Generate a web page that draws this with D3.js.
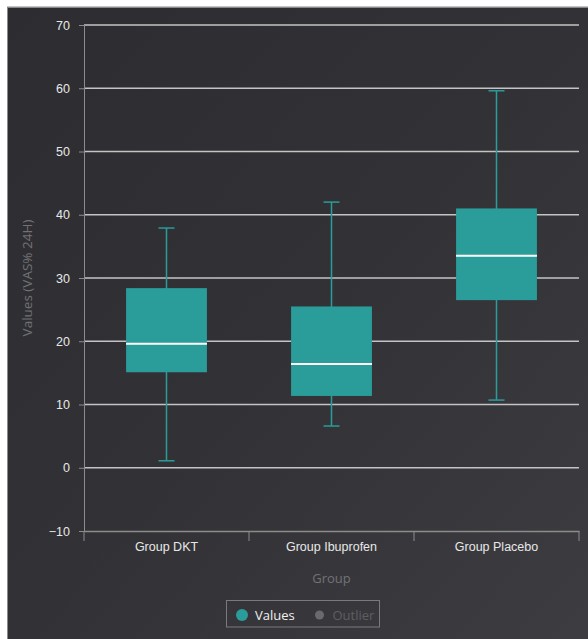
<!DOCTYPE html>
<html><head><meta charset="utf-8">
<script src="https://cdn.jsdelivr.net/npm/d3@7"></script>
<style>
html,body{margin:0;padding:0;background:#fff;}
svg{display:block;font-family:"Open Sans","DejaVu Sans",sans-serif;}
</style></head>
<body>
<svg id="c" width="588" height="639"></svg>
<script>
const groups = ["Group DKT", "Group Ibuprofen", "Group Placebo"];
const whiskerLow = [1.1, 6.6, 10.7];
const q1Values = [15.1, 11.35, 26.5];
const medians = [19.6, 16.4, 33.5];
const q3Values = [28.4, 25.5, 41.0];
const whiskerHigh = [37.9, 42.0, 59.6];
const yTicks = [-10, 0, 10, 20, 30, 40, 50, 60, 70];
const legendItems = ["Values", "Outlier"];

(function () {
const svg = d3.select("#c");
const W = 588, H = 639;
const defs = svg.append("defs");
const grad = defs.append("linearGradient").attr("id","bg")
  .attr("x1","0").attr("y1","0").attr("x2","1").attr("y2","1");
grad.append("stop").attr("offset","0").attr("stop-color","#2d2d31");
grad.append("stop").attr("offset","0.5").attr("stop-color","#323236");
grad.append("stop").attr("offset","1").attr("stop-color","#3d3d41");

svg.append("rect").attr("x",0).attr("y",0).attr("width",W).attr("height",H).attr("fill","#fff");
svg.append("rect").attr("x",7).attr("y",6.5).attr("width",W-7).attr("height",H-6.5).attr("fill","#8a8a8a");
svg.append("rect").attr("x",8).attr("y",8).attr("width",W-8).attr("height",H-8).attr("fill","url(#bg)");

const pLeft = 84, pRight = 579, pTop = 25, pBottom = 531;
const y = d3.scaleLinear().domain([-10, 70]).range([pBottom, pTop]);
const x = d3.scaleBand().domain(groups).range([pLeft, pRight]).paddingInner(0).paddingOuter(0);

// gridlines
svg.append("g").selectAll("line").data(yTicks.filter(t => t > -10)).join("line")
  .attr("x1", pLeft).attr("x2", pRight)
  .attr("y1", d => y(d)).attr("y2", d => y(d))
  .attr("stroke", "#c4c4c4").attr("stroke-width", 1.5);

// y axis
const yAxis = svg.append("g").attr("transform", `translate(${pLeft},0)`)
  .call(d3.axisLeft(y).tickValues(yTicks).tickSize(5).tickPadding(9).tickFormat(d => d < 0 ? "\u2212" + Math.abs(d) : d));
yAxis.select(".domain").attr("stroke", "#8c8c8c").attr("stroke-width", 1);
yAxis.selectAll(".tick line").attr("stroke", "#8c8c8c");
yAxis.selectAll(".tick text").attr("fill", "#e8e8e8").attr("font-size", 12.5).attr("font-weight", 500);

// x axis
const xAxis = svg.append("g").attr("transform", `translate(0,${pBottom})`)
  .call(d3.axisBottom(x).tickSize(0).tickPadding(11));
xAxis.select(".domain").attr("stroke", "#8c8c8c").attr("stroke-width", 1.5);
xAxis.selectAll(".tick text").attr("fill", "#e8e8e8").attr("font-size", 12.5).attr("font-weight", 500);
const bounds = groups.map(g => x(g)).concat([x(groups[groups.length-1]) + x.bandwidth()]);
svg.append("g").selectAll("line").data(bounds).join("line")
  .attr("x1", d => d).attr("x2", d => d)
  .attr("y1", pBottom).attr("y2", pBottom + 10)
  .attr("stroke", "#8c8c8c").attr("stroke-width", 1);

// axis titles
svg.append("text").attr("x", (pLeft + pRight) / 2).attr("y", 582.5)
  .attr("text-anchor", "middle").attr("fill", "#727276").attr("font-size", 13).text("Group");
svg.append("text").attr("transform", `translate(32,${(pTop + pBottom) / 2}) rotate(-90)`)
  .attr("text-anchor", "middle").attr("fill", "#727276").attr("font-size", 13.5).text("Values (VAS% 24H)");

// boxes
const teal = "#2a9c9a";
const bw = x.bandwidth() * 0.49;
const capW = 16;
const boxes = svg.append("g").selectAll("g").data(groups).join("g")
  .attr("transform", d => `translate(${x(d) + x.bandwidth() / 2},0)`);
boxes.append("line").attr("x1", 0).attr("x2", 0)
  .attr("y1", (d, i) => y(whiskerLow[i])).attr("y2", (d, i) => y(whiskerHigh[i]))
  .attr("stroke", teal).attr("stroke-width", 1.5);
boxes.append("line").attr("x1", -capW / 2).attr("x2", capW / 2)
  .attr("y1", (d, i) => y(whiskerLow[i])).attr("y2", (d, i) => y(whiskerLow[i]))
  .attr("stroke", teal).attr("stroke-width", 1.5);
boxes.append("line").attr("x1", -capW / 2).attr("x2", capW / 2)
  .attr("y1", (d, i) => y(whiskerHigh[i])).attr("y2", (d, i) => y(whiskerHigh[i]))
  .attr("stroke", teal).attr("stroke-width", 1.5);
boxes.append("rect").attr("x", -bw / 2).attr("width", bw)
  .attr("y", (d, i) => y(q3Values[i])).attr("height", (d, i) => y(q1Values[i]) - y(q3Values[i]))
  .attr("fill", teal);
boxes.append("line").attr("x1", -bw / 2).attr("x2", bw / 2)
  .attr("y1", (d, i) => y(medians[i])).attr("y2", (d, i) => y(medians[i]))
  .attr("stroke", "#ffffff").attr("stroke-width", 2);

// legend
const lg = svg.append("g");
lg.append("rect").attr("x", 226.5).attr("y", 600.5).attr("width", 153).attr("height", 26.5)
  .attr("fill", "none").attr("stroke", "#7a7a7e").attr("stroke-width", 1);
const legendX = [242, 319.5];
const legendColors = [teal, "#6a6a6e"];
const legendText = ["#f0f0f0", "#5e5e62"];
const legendR = [6, 4.5];
const li = lg.selectAll("g").data(legendItems).join("g");
li.append("circle").attr("cx", (d, i) => legendX[i]).attr("cy", 615).attr("r", (d, i) => legendR[i])
  .attr("fill", (d, i) => legendColors[i]);
li.append("text").attr("x", (d, i) => legendX[i] + 13).attr("y", 619.5)
  .attr("fill", (d, i) => legendText[i]).attr("font-size", 13).attr("font-weight", 500)
  .text(d => d);
})();
</script>
</body></html>
